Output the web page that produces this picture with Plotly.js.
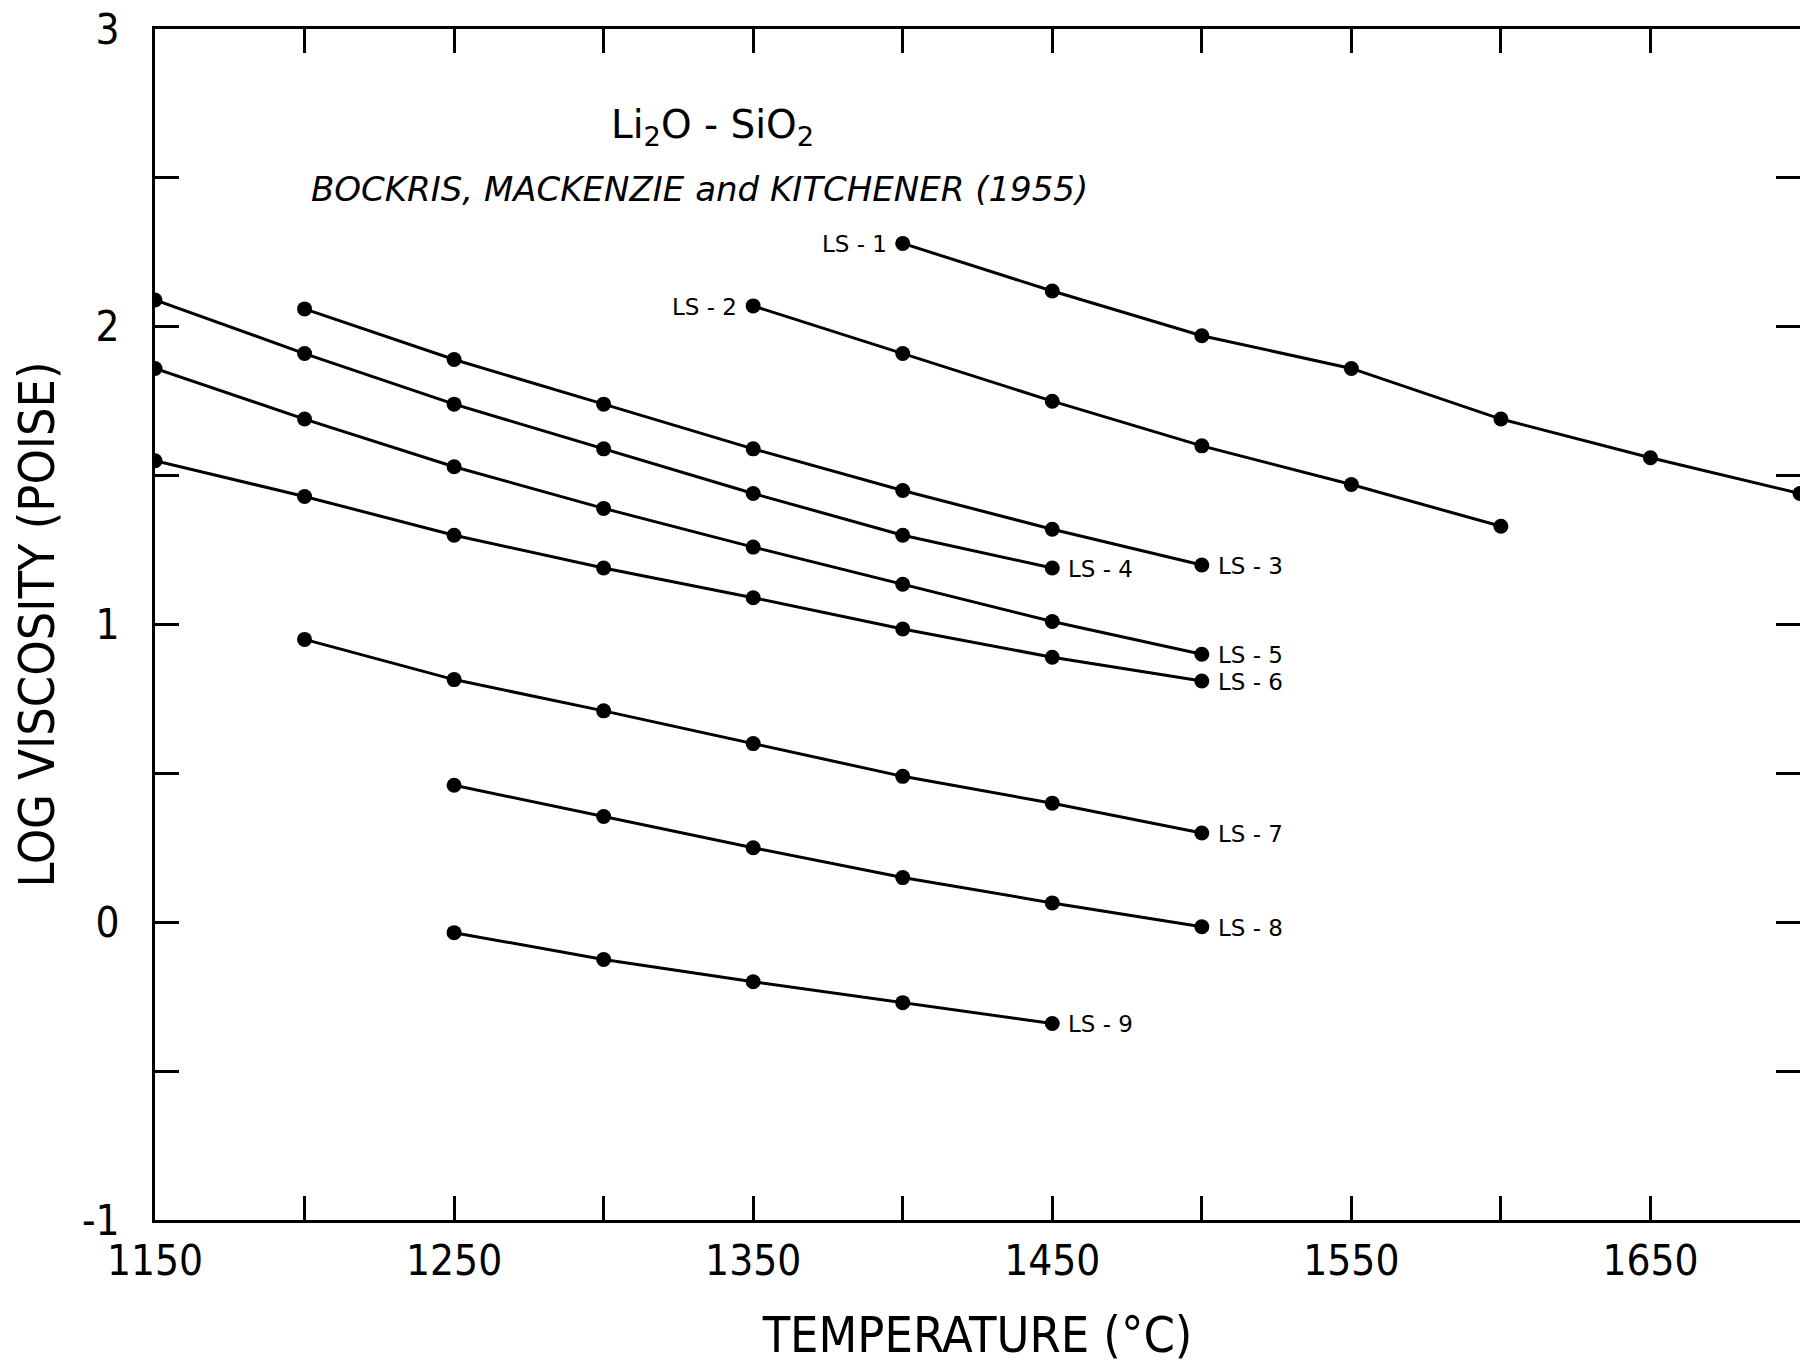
<!DOCTYPE html>
<html>
<head>
<meta charset="utf-8">
<script src="https://cdn.plot.ly/plotly-3.0.1.min.js"></script>
<style>html,body{margin:0;padding:0;background:#fff;}#chart{width:1800px;height:1370px;}</style>
</head>
<body>
<div id="chart"></div>
<script>
// ---- data (temperature °C, log viscosity poise) ----
const ls1T = [1400, 1450, 1500, 1550, 1600, 1650, 1700];
const ls1V = [2.28, 2.12, 1.97, 1.86, 1.69, 1.56, 1.44];
const ls2T = [1350, 1400, 1450, 1500, 1550, 1600];
const ls2V = [2.07, 1.91, 1.75, 1.60, 1.47, 1.33];
const ls3T = [1200, 1250, 1300, 1350, 1400, 1450, 1500];
const ls3V = [2.06, 1.89, 1.74, 1.59, 1.45, 1.32, 1.20];
const ls4T = [1150, 1200, 1250, 1300, 1350, 1400, 1450];
const ls4V = [2.09, 1.91, 1.74, 1.59, 1.44, 1.30, 1.19];
const ls5T = [1150, 1200, 1250, 1300, 1350, 1400, 1450, 1500];
const ls5V = [1.86, 1.69, 1.53, 1.39, 1.26, 1.135, 1.01, 0.90];
const ls6T = [1150, 1200, 1250, 1300, 1350, 1400, 1450, 1500];
const ls6V = [1.55, 1.43, 1.30, 1.19, 1.09, 0.985, 0.89, 0.81];
const ls7T = [1200, 1250, 1300, 1350, 1400, 1450, 1500];
const ls7V = [0.95, 0.815, 0.71, 0.60, 0.49, 0.40, 0.30];
const ls8T = [1250, 1300, 1350, 1400, 1450, 1500];
const ls8V = [0.46, 0.355, 0.25, 0.15, 0.065, -0.015];
const ls9T = [1250, 1300, 1350, 1400, 1450];
const ls9V = [-0.035, -0.125, -0.20, -0.27, -0.34];

const seriesNames = ['LS - 1', 'LS - 2', 'LS - 3', 'LS - 4', 'LS - 5', 'LS - 6', 'LS - 7', 'LS - 8', 'LS - 9'];
const labelSides  = ['start', 'start', 'end', 'end', 'end', 'end', 'end', 'end', 'end'];

const xTickVals = [1150, 1200, 1250, 1300, 1350, 1400, 1450, 1500, 1550, 1600, 1650, 1700];
const xTickText = ['1150', ' ', '1250', ' ', '1350', ' ', '1450', ' ', '1550', ' ', '1650', ' '];
const yTickVals = [-1, -0.5, 0, 0.5, 1, 1.5, 2, 2.5, 3];
const yTickText = ['-1', ' ', '0', ' ', '1', ' ', '2', ' ', '3'];

const titleMain = 'Li<sub>2</sub>O - SiO<sub>2</sub>';
const titleSource = '<i>BOCKRIS, MACKENZIE and KITCHENER (1955)</i>';
const xTitle = 'TEMPERATURE (°C)';
const yTitle = 'LOG VISCOSITY (POISE)';

// ---- build ----
const xs = [ls1T, ls2T, ls3T, ls4T, ls5T, ls6T, ls7T, ls8T, ls9T];
const ys = [ls1V, ls2V, ls3V, ls4V, ls5V, ls6V, ls7V, ls8V, ls9V];

const condensed = '"Liberation Sans Narrow", "DejaVu Sans Condensed", "Roboto Condensed", sans-serif';
const labelFont = '"DejaVu Sans", "Noto Sans", sans-serif';

const traces = xs.map((x, i) => ({
  type: 'scatter', mode: 'lines+markers', name: seriesNames[i],
  x: x, y: ys[i], cliponaxis: true,
  line: {color: '#000', width: 3},
  marker: {color: '#000', size: 15, symbol: 'circle'},
  showlegend: false, hoverinfo: 'x+y+name'
}));

const annotations = xs.map((x, i) => {
  const atEnd = labelSides[i] === 'end';
  const k = atEnd ? x.length - 1 : 0;
  return {
    x: x[k], y: ys[i][k], xref: 'x', yref: 'y',
    text: seriesNames[i], showarrow: false,
    xanchor: atEnd ? 'left' : 'right', yanchor: 'middle',
    xshift: atEnd ? 14 : -14, yshift: -1,
    font: {family: labelFont, size: 23, color: '#000'}
  };
});
annotations.push({
  xref: 'paper', yref: 'paper', x: 0.339, y: 0.918, xanchor: 'center', yanchor: 'middle',
  text: titleMain, showarrow: false,
  font: {family: labelFont, size: 39, color: '#000'}
});
annotations.push({
  xref: 'paper', yref: 'paper', x: 0.331, y: 0.866, xanchor: 'center', yanchor: 'middle',
  text: titleSource, showarrow: false,
  font: {family: labelFont, size: 34, color: '#000'}
});

const axisCommon = {
  showline: true, linecolor: '#000', linewidth: 3, mirror: 'ticks',
  ticks: 'inside', ticklen: 24, tickwidth: 3, tickcolor: '#000',
  showgrid: false, zeroline: false,
  tickfont: {family: condensed, size: 42, color: '#000'}
};

const layout = {
  width: 1800, height: 1370,
  margin: {l: 155, r: 0, t: 29, b: 150},
  paper_bgcolor: '#fff', plot_bgcolor: '#fff',
  xaxis: Object.assign({}, axisCommon, {
    range: [1150, 1700], tickmode: 'array', tickvals: xTickVals, ticktext: xTickText,
    ticklabelstandoff: 2,
    title: {text: xTitle, font: {family: condensed, size: 50, color: '#000'}, standoff: 33}
  }),
  yaxis: Object.assign({}, axisCommon, {
    range: [-1, 3], tickmode: 'array', tickvals: yTickVals, ticktext: yTickText,
    ticklabelstandoff: 24,
    title: {text: yTitle, font: {family: condensed, size: 50, color: '#000'}, standoff: 12}
  }),
  annotations: annotations,
  showlegend: false
};

Plotly.newPlot('chart', traces, layout, {displayModeBar: false, staticPlot: true});
</script>
</body>
</html>
